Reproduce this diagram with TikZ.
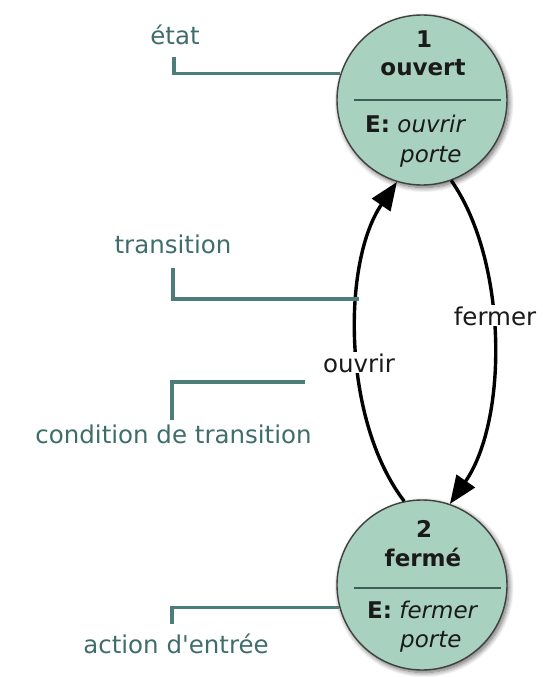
\documentclass[tikz,border=0pt]{standalone}
\usepackage{fontspec}
\setmainfont{DejaVu Sans}[Ligatures=TeXOff]
\usetikzlibrary{arrows.meta,shadows.blur}
\definecolor{labteal}{HTML}{3F6D6C}
\definecolor{lineteal}{HTML}{4D7D7B}
\definecolor{statefill}{HTML}{A9D1BF}
\definecolor{sepcol}{HTML}{3E5E58}
\definecolor{txtdark}{HTML}{1A1A1A}
\tikzset{
  x=1pt,y=1pt,
  bigtip/.tip={Triangle[length=28pt,width=22pt]},
  statecirc/.style={circle,draw=black!75,line width=1.4pt,fill=statefill,minimum size=170pt,inner sep=0pt,
    blur shadow={shadow xshift=2pt,shadow yshift=-2.5pt,shadow blur steps=10,shadow blur radius=5pt,shadow opacity=60}},
  labtext/.style={text=labteal,font=\fontsize{24.5}{29}\selectfont,anchor=base,inner sep=0pt},
  statetext/.style={text=txtdark,font=\fontsize{23}{27}\selectfont,inner sep=0pt},
  annot/.style={draw=lineteal,line width=3.2pt},
  trans/.style={draw=black,line width=3.4pt,arrows={-bigtip}},
  translab/.style={text=txtdark,font=\fontsize{24.5}{29}\selectfont,fill=white,inner sep=1pt,anchor=base},
  sepline/.style={draw=sepcol,line width=2.2pt}
}
\begin{document}
\begin{tikzpicture}
\useasboundingbox (0,0) rectangle (542,-677);
% states
\node[statecirc] (c1) at (422,-100) {};
\node[statecirc] (c2) at (422,-585) {};
% separators
\draw[sepline] (354,-100) coordinate (s1a) -- (501,-100) coordinate (s1b);
\draw[sepline] (354,-588) coordinate (s2a) -- (501,-588) coordinate (s2b);
% state texts
\node[statetext,anchor=base] (n1) at (424,-48) {\textbf{1}};
\node[statetext,anchor=base] (o1) at (423,-75) {\textbf{ouvert}};
\node[statetext,anchor=base west] (e1) at (365,-132) {\textbf{E:} \textit{ouvrir}};
\node[statetext,anchor=base west] (p1) at (400,-162) {\textit{porte}};
\node[statetext,anchor=base] (n2) at (424,-537) {\textbf{2}};
\node[statetext,anchor=base] (o2) at (423,-566) {\textbf{fermé}};
\node[statetext,anchor=base west] (e2) at (367,-618) {\textbf{E:} \textit{fermer}};
\node[statetext,anchor=base west] (p2) at (400,-647) {\textit{porte}};
% transitions
\draw[trans] (c2.102.6) .. controls (342,-420) and (342,-262) .. (c1.253);
\draw[trans] (c1.290) .. controls (508,-262) and (508,-420) .. (c2.71);
\node[translab] (lo) at (359,-372) {ouvrir};
\node[translab] (lf) at (495,-325) {fermer};
% annotations
\node[labtext] (le) at (175,-45) {état};
\node[labtext] (lt) at (173,-253) {transition};
\node[labtext] (lc) at (173.5,-443) {condition de transition};
\node[labtext] (la) at (176,-653) {action d'entrée};
\coordinate (ae) at (174,-57);
\coordinate (at) at (173,-268);
\coordinate (atend) at (359,-299);
\coordinate (ac) at (172,-420);
\coordinate (acend) at (305,-382);
\coordinate (aa) at (172,-624);
\draw[annot] (ae) |- (c1.162.9);
\draw[annot] (at) |- (atend);
\draw[annot] (ac) |- (acend);
\draw[annot] (aa) |- (c2.195.7);
\end{tikzpicture}
\end{document}
